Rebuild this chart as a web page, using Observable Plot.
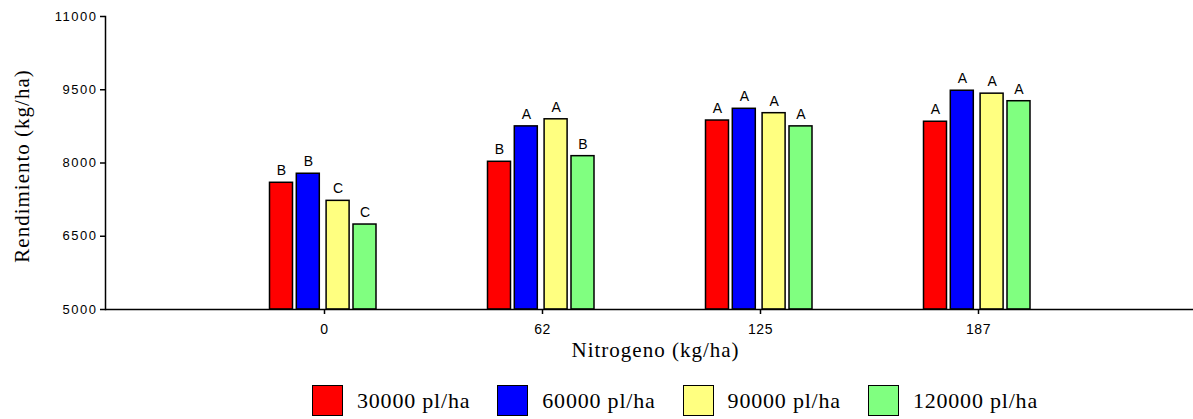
<!DOCTYPE html>
<html><head><meta charset="utf-8">
<script src="https://cdn.jsdelivr.net/npm/d3@7"></script>
<script src="https://cdn.jsdelivr.net/npm/@observablehq/plot@0.6"></script>
<style>
body{margin:0;background:#fff;}
#wrap{position:relative;width:1193px;height:419px;overflow:hidden;}
#legend{position:absolute;left:312px;top:385px;display:flex;align-items:center;font-family:"Liberation Serif","Times New Roman",serif;font-size:22px;letter-spacing:0.8px;color:#000;}
#legend .item{display:flex;align-items:center;margin-right:27px;}
#legend .sw{width:31px;height:31px;border:1px solid #000;box-sizing:border-box;margin-right:14px;}
</style></head><body><div id="wrap"><div id="chart"></div><div id="legend"></div></div>
<script>
const nitrogen = ["0", "62", "125", "187"];
const densities = ["30000 pl/ha", "60000 pl/ha", "90000 pl/ha", "120000 pl/ha"];
const colors = ["#ff0000", "#0000ff", "#ffff80", "#80ff80"];
const yield30000 = [7595, 8025, 8870, 8845];
const yield60000 = [7780, 8750, 9110, 9480];
const yield90000 = [7225, 8895, 9020, 9420];
const yield120000 = [6740, 8140, 8750, 9265];
const letters30000 = ["B", "B", "A", "A"];
const letters60000 = ["B", "A", "A", "A"];
const letters90000 = ["C", "A", "A", "A"];
const letters120000 = ["C", "B", "A", "A"];
const yTicks = [5000, 6500, 8000, 9500, 11000];

const seriesValues = [yield30000, yield60000, yield90000, yield120000];
const seriesLetters = [letters30000, letters60000, letters90000, letters120000];
const rows = [];
nitrogen.forEach((n, i) => seriesValues.forEach((vals, j) =>
  rows.push({n, d: densities[j], v: vals[i], letter: seriesLetters[j][i]})));

const offsets = [-43, -16.2, 13.6, 40.5];
const barInset = 97.5;
const sans = "Liberation Sans, Arial, sans-serif";
const serif = "Liberation Serif, Times New Roman, serif";

const plot = Plot.plot({
  width: 1193, height: 376,
  marginLeft: 105, marginRight: 0, marginTop: 16, marginBottom: 67,
  x: {domain: nitrogen, range: [215, 1087], padding: 0},
  y: {domain: [yTicks[0], yTicks[yTicks.length - 1]]},
  color: {domain: densities, range: colors},
  marks: [
    ...densities.map((d, j) => Plot.barY(rows.filter(r => r.d === d), {
      x: "n", y1: () => yTicks[0], y2: "v", fill: "d", stroke: "#000", strokeWidth: 1.5,
      insetLeft: barInset, insetRight: barInset, dx: offsets[j]
    })),
    ...densities.map((d, j) => Plot.text(rows.filter(r => r.d === d), {
      x: "n", y: "v", text: "letter", dx: offsets[j], dy: -12, fontSize: 14, fontFamily: sans, fill: "#000"
    })),
    Plot.ruleY([yTicks[0]], {stroke: "#000", strokeWidth: 1.5}),
    Plot.frame({anchor: "left", stroke: "#000", strokeWidth: 1.5}),
    Plot.axisY({ticks: yTicks, tickFormat: d => String(d), tickSize: 5, tickPadding: 3, fontSize: 13, fontFamily: sans, label: null, stroke: "#000", strokeWidth: 1.5, color: "#000"}),
    Plot.axisX({tickSize: 5, tickPadding: 10, fontSize: 14, fontFamily: sans, label: null, stroke: "#000", strokeWidth: 1.5}),
    Plot.text(["Nitrogeno (kg/ha)"], {frameAnchor: "bottom", text: d => d, dx: 6, dy: 47, fontSize: 21, fontFamily: serif, fill: "#000"}),
    Plot.text(["Rendimiento (kg/ha)"], {frameAnchor: "left", textAnchor: "middle", text: d => d, rotate: -90, dx: -83, dy: 3, fontSize: 21, fontFamily: serif, fill: "#000"})
  ]
});
document.getElementById("chart").appendChild(plot);
d3.select(plot).selectAll('g[aria-label="y-axis tick label"]').attr("letter-spacing", "1.5px").attr("font-size", 13).attr("font-family", sans).attr("fill", "#000")
  .selectAll("text").attr("font-size", 13);
d3.select(plot).selectAll('g[aria-label="x-axis tick label"]').attr("letter-spacing", "0.5px").attr("font-size", 14).attr("font-family", sans).attr("fill", "#000")
  .selectAll("text").attr("font-size", 14);
d3.select(plot).selectAll('g[aria-label="text"]').filter(function(){ return this.textContent.includes("kg/ha"); }).attr("letter-spacing", "1px");

const legend = d3.select("#legend");
densities.forEach((d, j) => {
  const item = legend.append("div").attr("class", "item");
  item.append("div").attr("class", "sw").style("background", colors[j]);
  item.append("span").text(d);
});
</script></body></html>
